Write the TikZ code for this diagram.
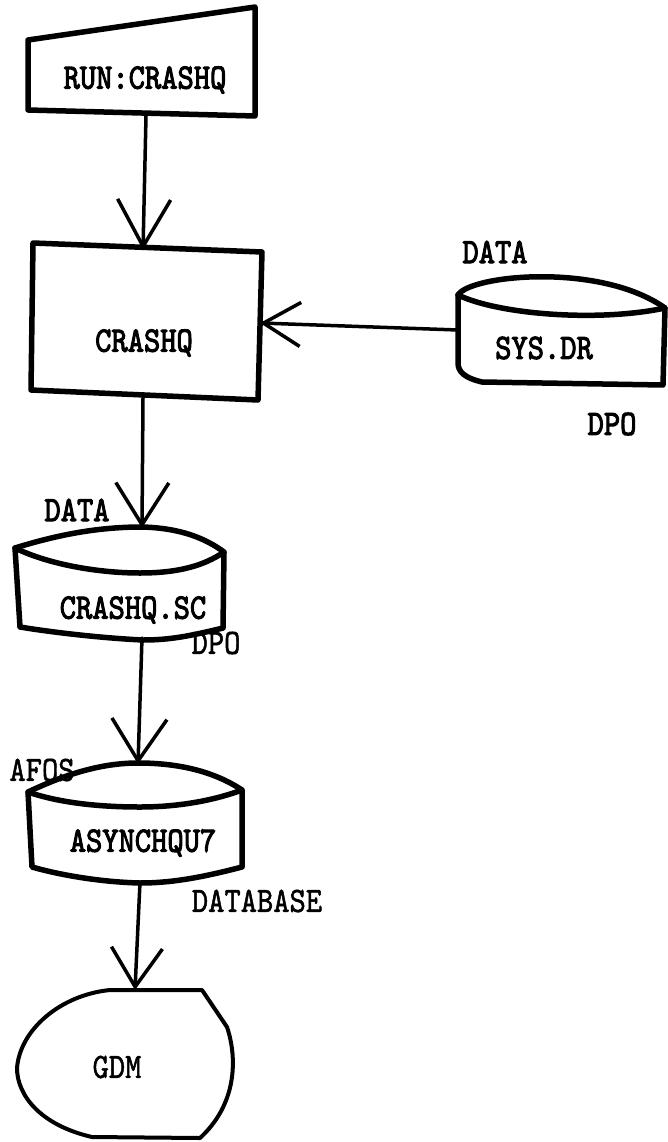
\documentclass[tikz,border=0pt]{standalone}
\usepackage{fontspec}
\usepackage{graphicx}
\newfontfamily\twbold{lmmono10-regular.otf}[FakeBold=3]
\newfontfamily\twreg{lmmono10-regular.otf}[FakeBold=1.5]
\newcommand\tallt[1]{\scalebox{1}[1.15]{#1}}
\usetikzlibrary{arrows.meta}
\tikzset{
  outline/.style={line width=5.5pt, line join=round, line cap=round},
  thinoutline/.style={line width=4pt, line join=round, line cap=round},
  conn/.style={line width=3.5pt, line cap=round},
  lbl/.style={font=\fontsize{31}{31}\selectfont\twbold, inner sep=0pt},
  lblr/.style={font=\fontsize{31}{31}\selectfont\twreg, inner sep=0pt},
  barb/.style 2 args={-{Straight Barb[length=#1pt,width=#2pt]}}
}
\begin{document}
\begin{tikzpicture}[x=1pt,y=-1pt]
\useasboundingbox (0,0) rectangle (668,1142);
\fill[white] (0,0) rectangle (668,1142);

% RUN:CRASHQ (manual input)
\draw[outline] (28,40) -- (255,7) -- (255,116) -- (28,110) -- cycle;
\node[lbl] (run) at (145,80) {\tallt{RUN:CRASHQ}};
\coordinate (runB) at (146,116);

% CRASHQ process box
\draw[outline] (33,243) -- (262,252) -- (258,400) -- (31,390) -- cycle;
\node[lbl] (crashq) at (144,343) {\tallt{CRASHQ}};
\coordinate (crashqT) at (143,250);
\coordinate (crashqR) at (260,323);
\coordinate (crashqB) at (143,398);

% SYS.DR storage
\draw[outline] (458,295) .. controls (470,275) and (600,262) .. (665,308)
      -- (663,385) -- (482,382) .. controls (465,378) and (458,372) .. (458,363) -- cycle;
\draw[outline] (458,295) .. controls (500,315) and (600,322) .. (665,308);
\node[lbl] (sysdr) at (544,348) {\tallt{SYS.DR}};
\node[lbl] (data1) at (495,252) {\tallt{DATA}};
\node[lbl] (dpo1) at (612,424) {\tallt{DPO}};
\coordinate (sysdrL) at (458,330);

% CRASHQ.SC storage
\draw[outline] (15,548) .. controls (60,534) and (100,527) .. (142,527)
      .. controls (180,528) and (205,538) .. (224,552)
      -- (223,628) .. controls (190,636) and (170,640) .. (143,640)
      .. controls (100,638) and (50,632) .. (20,627) -- cycle;
\draw[outline] (15,548) .. controls (50,565) and (100,573) .. (140,573)
      .. controls (180,573) and (205,565) .. (224,552);
\node[lbl] (crashqsc) at (133,610) {\tallt{CRASHQ.SC}};
\node[lbl] (data2) at (77,510) {\tallt{DATA}};
\node[lblr] (dpo2) at (216,643) {\tallt{DPO}};
\coordinate (scT) at (142,528);
\coordinate (scB) at (142,638);

% ASYNCHQU7 storage
\draw[outline] (28,792) .. controls (70,772) and (105,763) .. (138,763)
      .. controls (180,763) and (215,772) .. (242,790)
      -- (242,867) .. controls (200,878) and (170,883) .. (140,883)
      .. controls (100,882) and (60,875) .. (32,867) -- cycle;
\draw[outline] (28,792) .. controls (60,803) and (100,807) .. (140,807)
      .. controls (180,807) and (215,800) .. (242,790);
\node[lbl] (async) at (143,843) {\tallt{ASYNCHQU7}};
\node[lblr] (afos) at (42,770) {\tallt{AFOS}};
\node[lblr] (database) at (257,901) {\tallt{DATABASE}};
\coordinate (asT) at (138,764);
\coordinate (asB) at (140,882);

% GDM display
\draw[thinoutline] (110,990) -- (202,990) -- (227,1027)
      .. controls (238,1060) and (236,1105) .. (200,1138)
      -- (92,1137) .. controls (40,1125) and (17,1095) .. (17,1068)
      .. controls (20,1030) and (60,995) .. (110,990);
\node[lblr] (gdm) at (117,1067) {\tallt{GDM}};
\coordinate (gdmT) at (135,990);

% connectors
\draw[conn, barb={47}{53}] (runB) -- (crashqT);
\draw[conn, barb={37}{44}] (sysdrL) -- (crashqR);
\draw[conn, barb={42}{53}] (crashqB) -- (scT);
\draw[conn, barb={42}{55}] (scB) -- (asT);
\draw[conn, barb={39}{51}] (asB) -- (gdmT);
\end{tikzpicture}
\end{document}
